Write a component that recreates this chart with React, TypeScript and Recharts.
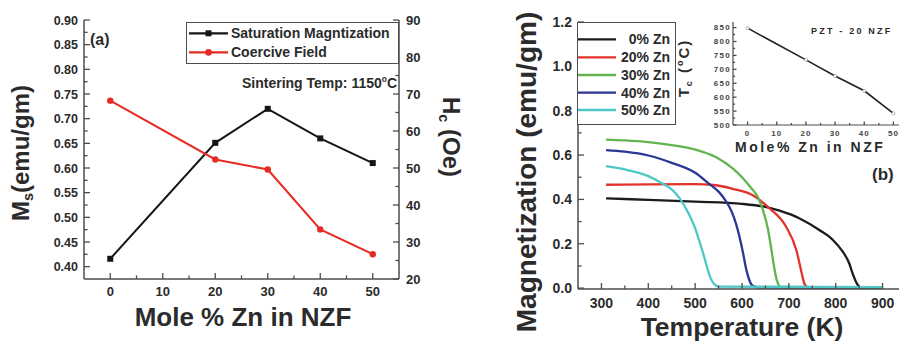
import React from "react";
import { LineChart, Line, XAxis, YAxis } from "recharts";

const FONT = '"Liberation Sans", Arial, Helvetica, sans-serif';
const AX = "#4d4d4d";
const TXT = "#2b2b2b";

// ---- panel (a): Ms and Hc vs Zn content
const ZN = [0, 20, 30, 40, 50];
const MS = [0.416, 0.651, 0.72, 0.66, 0.61];
const HC = [68.2, 52.3, 49.6, 33.4, 26.7];

const A_X_TICKS = [0, 5, 10, 15, 20, 25, 30, 35, 40, 45, 50];
const A_X_LABELS = [0, 10, 20, 30, 40, 50];
const A_YL_TICKS = [0.4, 0.425, 0.45, 0.475, 0.5, 0.525, 0.55, 0.575, 0.6, 0.625, 0.65, 0.675, 0.7, 0.725, 0.75, 0.775, 0.8, 0.825, 0.85, 0.875, 0.9];
const A_YL_LABELS = [0.4, 0.45, 0.5, 0.55, 0.6, 0.65, 0.7, 0.75, 0.8, 0.85, 0.9];
const A_YR_TICKS = [20, 25, 30, 35, 40, 45, 50, 55, 60, 65, 70, 75, 80, 85, 90];
const A_YR_LABELS = [20, 30, 40, 50, 60, 70, 80, 90];

// ---- panel (b): M vs T curves
const T0 = [310, 400, 500, 600, 650, 680, 723, 765, 794, 815, 829, 836, 845, 852, 860, 900];
const M0 = [0.405, 0.398, 0.39, 0.38, 0.366, 0.349, 0.314, 0.262, 0.217, 0.164, 0.111, 0.066, 0.021, 0.004, 0.002, 0.002];
const T20 = [310, 400, 500, 540, 580, 623, 659, 694, 716, 726, 733, 740, 750, 900];
const M20 = [0.466, 0.468, 0.469, 0.465, 0.448, 0.419, 0.359, 0.277, 0.171, 0.081, 0.021, 0.004, 0.002, 0.002];
const T30 = [310, 350, 400, 450, 500, 545, 580, 600, 620, 634, 645, 655, 663, 669, 675, 683, 900];
const M30 = [0.67, 0.666, 0.658, 0.645, 0.625, 0.59, 0.54, 0.5, 0.45, 0.41, 0.35, 0.27, 0.17, 0.09, 0.03, 0.005, 0.002];
const T40 = [310, 350, 400, 450, 500, 530, 550, 565, 578, 588, 597, 603, 609, 615, 622, 635, 900];
const M40 = [0.622, 0.615, 0.598, 0.565, 0.52, 0.47, 0.435, 0.395, 0.345, 0.285, 0.21, 0.15, 0.085, 0.04, 0.012, 0.003, 0.002];
const T50 = [310, 350, 400, 430, 450, 467, 480, 490, 500, 510, 518, 526, 533, 540, 550, 900];
const M50 = [0.55, 0.535, 0.505, 0.472, 0.445, 0.405, 0.36, 0.32, 0.27, 0.205, 0.15, 0.09, 0.045, 0.02, 0.007, 0.004];

const B_NAMES = ["0% Zn", "20% Zn", "30% Zn", "40% Zn", "50% Zn"];
const B_COLORS = ["#1c1c1c", "#e2322b", "#62b44f", "#2c3696", "#4ec8c6"];

const B_X_TICKS = [300, 350, 400, 450, 500, 550, 600, 650, 700, 750, 800, 850, 900];
const B_X_LABELS = [300, 400, 500, 600, 700, 800, 900];
const B_Y_TICKS = [0, 0.1, 0.2, 0.3, 0.4, 0.5, 0.6, 0.7, 0.8, 0.9, 1.0, 1.1, 1.2];
const B_Y_LABELS = [0, 0.2, 0.4, 0.6, 0.8, 1.0, 1.2];

// ---- inset: Tc vs Zn
const IN_ZN = [0, 20, 30, 40, 50];
const IN_TC = [848, 734, 676, 623, 542];
const IN_X_TICKS = [0, 5, 10, 15, 20, 25, 30, 35, 40, 45, 50];
const IN_X_LABELS = [0, 10, 20, 30, 40, 50];
const IN_Y_TICKS = [500, 525, 550, 575, 600, 625, 650, 675, 700, 725, 750, 775, 800, 825, 850];
const IN_Y_LABELS = [500, 550, 600, 650, 700, 750, 800, 850];

type Side = "left" | "right" | "bottom" | "top";

// ticks drawn inward (Origin style) with labels only on majors
function makeTick(side: Side, gap: number, labels: number[], fmt: (v: number) => string, fs: number, len: number, ls = 0, color = TXT) {
  return (p: any) => {
    const v = Number(p.payload.value);
    const major = labels.some((m) => Math.abs(m - v) < 1e-6);
    const l = major ? len : len * 0.6;
    const x = p.x;
    const y = p.y;
    const ts = { fontFamily: FONT, fontWeight: 700, fontSize: fs, fill: color, letterSpacing: ls };
    if (side === "left") {
      const ax = x + gap;
      return (
        <g>
          <line x1={ax} y1={y} x2={ax + l} y2={y} stroke={AX} strokeWidth={1.3} />
          {major && <text x={x} y={y} dy="0.36em" textAnchor="end" style={ts}>{fmt(v)}</text>}
        </g>
      );
    }
    if (side === "right") {
      const ax = x - gap;
      return (
        <g>
          <line x1={ax} y1={y} x2={ax - l} y2={y} stroke={AX} strokeWidth={1.3} />
          {major && <text x={x} y={y} dy="0.36em" textAnchor="start" style={ts}>{fmt(v)}</text>}
        </g>
      );
    }
    if (side === "bottom") {
      const ay = y - gap;
      return (
        <g>
          <line x1={x} y1={ay} x2={x} y2={ay - l} stroke={AX} strokeWidth={1.3} />
          {major && <text x={x} y={y} dy="0.72em" textAnchor="middle" style={ts}>{fmt(v)}</text>}
        </g>
      );
    }
    const ay = y + gap;
    return <line x1={x} y1={ay} x2={x} y2={ay + l} stroke={AX} strokeWidth={1.3} />;
  };
}

function Txt({ x, y, fs, children, anchor = "start", ls = 0, color = TXT }: any) {
  const tx = anchor === "middle" ? "translateX(-50%)" : anchor === "end" ? "translateX(-100%)" : "none";
  return (
    <div
      style={{
        position: "absolute",
        left: x,
        top: y - 0.85 * fs,
        fontSize: fs,
        lineHeight: 1,
        fontFamily: FONT,
        fontWeight: 700,
        color,
        whiteSpace: "nowrap",
        letterSpacing: ls,
        transform: tx,
      }}
    >
      {children}
    </div>
  );
}

function RotTxt({ cx, cy, fs, deg, children, ls = 0 }: any) {
  return (
    <div
      style={{
        position: "absolute",
        left: cx,
        top: cy,
        fontSize: fs,
        lineHeight: 1,
        fontFamily: FONT,
        fontWeight: 700,
        color: TXT,
        whiteSpace: "nowrap",
        letterSpacing: ls,
        transform: `translate(-50%, -50%) rotate(${deg}deg)`,
      }}
    >
      {children}
    </div>
  );
}

const axisLine = { stroke: AX, strokeWidth: 1.5 };
const sub = { fontSize: "0.6em", verticalAlign: "-0.3em" } as const;

function PanelA() {
  const rows = ZN.map((z, i) => ({ zn: z, ms: MS[i], hc: HC[i] }));
  const f2 = (v: number) => v.toFixed(2);
  const f0 = (v: number) => String(Math.round(v));
  return (
    <div style={{ position: "absolute", left: 0, top: 0 }}>
      <LineChart width={450} height={345} data={rows} margin={{ top: 20, right: 0, bottom: 0, left: 0 }}>
        <XAxis xAxisId="b" dataKey="zn" type="number" domain={[-5, 55]} ticks={A_X_TICKS} interval={0} height={66}
          tickSize={0} tickMargin={8} axisLine={axisLine} tickLine={false} tick={makeTick("bottom", 8, A_X_LABELS, f0, 13, 6)} />
        <XAxis xAxisId="t" orientation="top" dataKey="zn" type="number" domain={[-5, 55]} allowDataOverflow ticks={A_X_TICKS}
          interval={0} height={0} tickSize={0} tickMargin={0} axisLine={axisLine} tickLine={false} tick={makeTick("top", 0, A_X_LABELS, f0, 13, 6)} />
        <YAxis yAxisId="l" type="number" domain={[0.375, 0.9]} allowDataOverflow ticks={A_YL_TICKS} interval={0} width={84}
          tickSize={0} tickMargin={6} axisLine={axisLine} tickLine={false} tick={makeTick("left", 6, A_YL_LABELS, f2, 12.5, 6)} />
        <YAxis yAxisId="r" orientation="right" type="number" domain={[20, 90]} ticks={A_YR_TICKS} interval={0} width={51}
          tickSize={0} tickMargin={7} axisLine={axisLine} tickLine={false} tick={makeTick("right", 7, A_YR_LABELS, f0, 13, 6)} />
        <Line xAxisId="b" yAxisId="l" type="linear" dataKey="ms" stroke="#151515" strokeWidth={2} isAnimationActive={false}
          dot={(p: any) => <rect key={`s${p.index}`} x={p.cx - 3} y={p.cy - 3} width={6} height={6} fill="#151515" />} />
        <Line xAxisId="b" yAxisId="r" type="linear" dataKey="hc" stroke="#e52b24" strokeWidth={2} isAnimationActive={false}
          dot={{ r: 3.2, fill: "#e52b24", stroke: "#e52b24", strokeWidth: 0 }} />
      </LineChart>
      <div style={{ position: "absolute", left: 186, top: 22, width: 213, height: 42, border: `1px solid ${AX}`, boxSizing: "border-box", background: "#fff" }} />
      <svg style={{ position: "absolute", left: 186, top: 22 }} width={50} height={42}>
        <line x1={3} y1={11.3} x2={42} y2={11.3} stroke="#151515" strokeWidth={2.2} />
        <rect x={19.5} y={8.3} width={6} height={6} fill="#151515" />
        <line x1={3} y1={30.3} x2={42} y2={30.3} stroke="#e52b24" strokeWidth={2.2} />
        <circle cx={22.5} cy={30.3} r={3.4} fill="#e52b24" />
      </svg>
      <Txt x={231} y={38} fs={14}>Saturation Magntization</Txt>
      <Txt x={231} y={57} fs={14}>Coercive Field</Txt>
      <Txt x={90} y={46} fs={16}>(a)</Txt>
      <Txt x={397} y={87} fs={14} anchor="end">Sintering Temp: 1150<sup style={{ fontSize: "0.6em" }}>o</sup>C</Txt>
      <RotTxt cx={22} cy={153} fs={24} deg={-90}>M<span style={sub}>s</span>(emu/gm)</RotTxt>
      <RotTxt cx={450} cy={137} fs={24} deg={90}>H<span style={sub}>c</span> (Oe)</RotTxt>
      <Txt x={243} y={326} fs={26} anchor="middle">Mole % Zn in NZF</Txt>
    </div>
  );
}

function PanelB() {
  const ts = [T0, T20, T30, T40, T50];
  const ms = [M0, M20, M30, M40, M50];
  const series = B_NAMES.map((n, k) => ({
    name: n,
    color: B_COLORS[k],
    rows: ts[k].map((t, i) => ({ t, m: ms[k][i] })),
  }));
  const f1 = (v: number) => v.toFixed(1);
  const f0 = (v: number) => String(Math.round(v));
  const rowY = [39.3, 57.3, 75, 92.7, 110];
  return (
    <div style={{ position: "absolute", left: 450, top: 0 }}>
      <LineChart width={460} height={345} margin={{ top: 22, right: 4, bottom: 0, left: 0 }}>
        <XAxis xAxisId="b" dataKey="t" type="number" domain={[250, 950]} allowDataOverflow ticks={B_X_TICKS} interval={0} height={56}
          tickSize={0} tickMargin={9} axisLine={axisLine} tickLine={false} tick={makeTick("bottom", 9, B_X_LABELS, f0, 14, 6)} />
        <XAxis xAxisId="t" orientation="top" dataKey="t" type="number" domain={[250, 950]} allowDataOverflow ticks={B_X_TICKS}
          interval={0} height={0} tickSize={0} tickMargin={0} axisLine={axisLine} tickLine={false} tick={makeTick("top", 0, B_X_LABELS, f0, 14, 6)} />
        <YAxis yAxisId="l" type="number" domain={[-0.004, 1.2]} allowDataOverflow ticks={B_Y_TICKS} interval={0} width={128}
          tickSize={0} tickMargin={6} axisLine={axisLine} tickLine={false} tick={makeTick("left", 6, B_Y_LABELS, f1, 14, 6)} />
        {series.map((s) => (
          <Line key={s.name} xAxisId="b" yAxisId="l" data={s.rows} dataKey="m" type="monotone" stroke={s.color}
            strokeWidth={2.3} dot={false} isAnimationActive={false} />
        ))}
      </LineChart>
      <div style={{ position: "absolute", left: 127, top: 22, width: 99, height: 103, border: `1px solid ${AX}`, boxSizing: "border-box", background: "#fff" }} />
      <svg style={{ position: "absolute", left: 127, top: 0 }} width={45} height={130}>
        {series.map((s, k) => (
          <line key={s.name} x1={1} y1={rowY[k]} x2={39} y2={rowY[k]} stroke={s.color} strokeWidth={2.3} />
        ))}
      </svg>
      {series.map((s, k) => (
        <Txt key={s.name} x={220} y={rowY[k] + 5} fs={14} anchor="end">{s.name}</Txt>
      ))}
      <RotTxt cx={77} cy={172} fs={28} deg={-90}>Magnetization (emu/gm)</RotTxt>
      <Txt x={292} y={337} fs={26.5} anchor="middle">Temperature (K)</Txt>
      <Txt x={422} y={180} fs={17}>(b)</Txt>
    </div>
  );
}

function Inset() {
  const rows = IN_ZN.map((z, i) => ({ zn: z, tc: IN_TC[i] }));
  const f0 = (v: number) => String(Math.round(v));
  return (
    <div style={{ position: "absolute", left: 670, top: 0 }}>
      <LineChart width={240} height={160} data={rows} margin={{ top: 22, right: 2, bottom: 0, left: 0 }}>
        <XAxis xAxisId="b" dataKey="zn" type="number" domain={[-5, 55]} ticks={IN_X_TICKS} interval={0} height={35}
          tickSize={0} tickMargin={5} axisLine={{ stroke: AX, strokeWidth: 1.2 }} tickLine={false}
          tick={makeTick("bottom", 5, IN_X_LABELS, f0, 8, 3.5, 1, "#444")} />
        <XAxis xAxisId="t" orientation="top" dataKey="zn" type="number" domain={[-5, 55]} allowDataOverflow ticks={IN_X_TICKS}
          interval={0} height={0} tickSize={0} tickMargin={0} axisLine={false} tickLine={false} tick={makeTick("top", 0, IN_X_LABELS, f0, 8, 3.5)} />
        <YAxis yAxisId="l" type="number" domain={[500, 870]} allowDataOverflow ticks={IN_Y_TICKS} interval={0} width={63}
          tickSize={0} tickMargin={2} axisLine={{ stroke: AX, strokeWidth: 1.2 }} tickLine={false}
          tick={makeTick("left", 2, IN_Y_LABELS, f0, 8, 3.5, 1.3, "#444")} />
        <Line xAxisId="b" yAxisId="l" type="linear" dataKey="tc" stroke="#222" strokeWidth={1.6} isAnimationActive={false}
          dot={{ r: 1.6, fill: "#fff", stroke: "#888", strokeWidth: 0.6 }} />
      </LineChart>
      <Txt x={141} y={35} fs={9} ls={2.2}>PZT - 20 NZF</Txt>
      <Txt x={65} y={152} fs={14} ls={2.5}>Mole% Zn in NZF</Txt>
      <RotTxt cx={15} cy={68} fs={15} deg={-90} ls={2}>T<span style={sub}>c</span> (<sup style={{ fontSize: "0.6em" }}>o</sup>C)</RotTxt>
    </div>
  );
}

export default function App() {
  return (
    <div style={{ position: "absolute", left: 0, top: 0, width: 899, height: 345, overflow: "hidden", background: "#fff" }}>
      <PanelA />
      <PanelB />
      <Inset />
    </div>
  );
}
